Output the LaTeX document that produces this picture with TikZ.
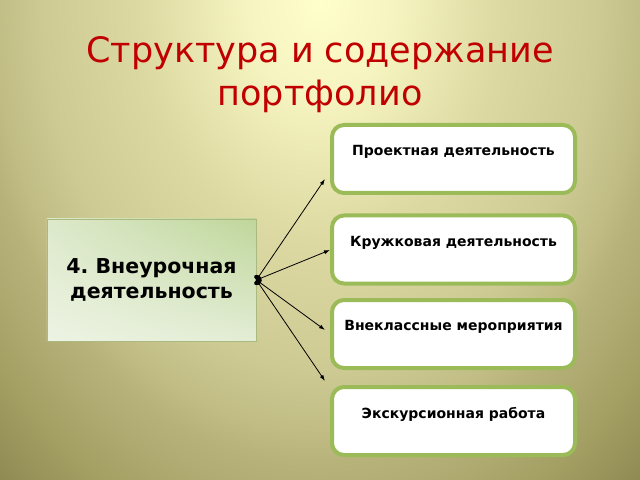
\documentclass[tikz,border=0pt]{standalone}
\usepackage{fontspec}
\setmainfont{DejaVu Sans}
\usetikzlibrary{arrows.meta,shadings}
\definecolor{titlered}{HTML}{C00000}
\definecolor{boxgreen}{HTML}{9BBB59}
\definecolor{leftul}{HTML}{DDE9CB}
\definecolor{leftur}{HTML}{BFD69A}
\definecolor{leftll}{HTML}{EDF3E3}
\definecolor{leftlr}{HTML}{E3EDD5}
\definecolor{leftline}{HTML}{A9B97F}
\pgfdeclareradialshading{slidebg}{\pgfpoint{0bp}{0bp}}{%
  color(0bp)=(rgb,255:red,255;green,255;blue,204); color(3bp)=(rgb,255:red,246;green,244;blue,192);
  color(7.5bp)=(rgb,255:red,220;green,217;blue,162); color(11.5bp)=(rgb,255:red,206;green,202;blue,148);
  color(13.5bp)=(rgb,255:red,192;green,188;blue,132); color(14.5bp)=(rgb,255:red,182;green,178;blue,122);
  color(17.5bp)=(rgb,255:red,164;green,160;blue,100); color(20bp)=(rgb,255:red,142;green,138;blue,82);
  color(25bp)=(rgb,255:red,128;green,124;blue,68); color(50bp)=(rgb,255:red,128;green,124;blue,68)}
\begin{document}
\begin{tikzpicture}
  [x=1bp,y=-1bp,
   every node/.style={font=\bfseries},
   sub/.style={draw=boxgreen,fill=white,line width=4bp,rounded corners=12bp,
     minimum width=243bp,minimum height=68bp,align=center,
     font=\fontsize{14bp}{17bp}\bfseries\selectfont},
   arr/.style={line width=0.8bp,{Circle[length=5bp,width=8bp]}-{Latex[length=6bp,width=4bp]}}]
  \useasboundingbox (0,0) rectangle (640,480);
  \clip (0,0) rectangle (640,480);
  \shade[shading=slidebg] (-285,-800) rectangle (925,800);

  \node (title) at (320,75) [text=titlered,align=center,
    font=\fontsize{35bp}{43bp}\selectfont] {Структура и содержание\\портфолио};

  \node (vneur) at (151.5,280) [draw=leftline,line width=0.8bp,
    upper left=leftul,upper right=leftur,lower left=leftll,lower right=leftlr,
    minimum width=209bp,minimum height=122bp,
    align=center,font=\fontsize{20.5bp}{25bp}\bfseries\selectfont] {4.\ Внеурочная\\деятельность};

  \node (pr) at (453.5,159)   [sub] {Проектная деятельность\\~};
  \node (kr) at (453.5,249.5) [sub] {Кружковая деятельность\\~};
  \node (vn) at (453.5,334)   [sub] {Внеклассные мероприятия\\~};
  \node (ek) at (453.5,421)   [sub] {Экскурсионная работа\\~};

  \coordinate (a1) at (325,179);
  \coordinate (a2) at (330,250);
  \coordinate (a3) at (325,330);
  \coordinate (a4) at (325,381);

  \foreach \from/\to in {vneur/a1,vneur/a2,vneur/a3,vneur/a4}
    \draw[arr] (\from.east) -- (\to);

\end{tikzpicture}
\end{document}
